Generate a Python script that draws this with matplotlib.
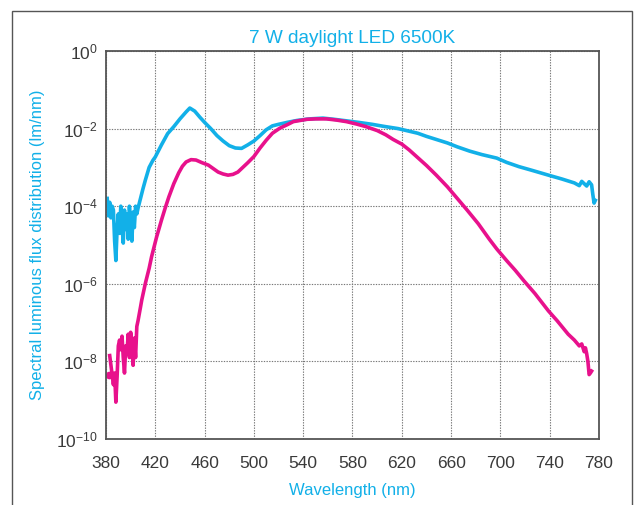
import numpy as np
import matplotlib
matplotlib.use("Agg")
import matplotlib.pyplot as plt
from matplotlib.patches import Rectangle
from matplotlib.ticker import FixedLocator, FuncFormatter

# ---- data (log10 of spectral luminous flux, lm/nm) ----
wl_cyan = [381, 382, 383, 384, 385, 386, 387, 388, 389, 390, 391, 392, 393, 394, 395,
           396, 397, 398, 399, 400, 401, 402, 403, 404, 405, 406, 408, 410, 412, 415,
           418, 420, 425, 430, 435, 440, 445, 448, 452, 456, 460, 465, 470, 475, 480,
           485, 490, 495, 500, 505, 510, 515, 520, 527, 535, 545, 556, 565, 575, 585,
           596, 605, 617, 625, 633, 640, 650, 657, 665, 675, 685, 697, 705, 715, 725,
           739, 750, 760, 764, 766, 768, 770, 772, 774, 775, 776, 777]
log_cyan = [-3.8, -4.25, -3.9, -4.3, -4.0, -4.1, -4.9, -5.4, -4.6, -4.2, -4.7, -4.0, -4.5, -4.95, -4.1,
            -4.6, -4.2, -4.85, -4.0, -4.45, -4.9, -4.15, -4.55, -4.0, -4.2, -4.05, -3.8, -3.55, -3.32, -3.0,
            -2.82, -2.73, -2.42, -2.13, -1.95, -1.75, -1.57, -1.47, -1.55, -1.7, -1.84, -2.0, -2.18, -2.32, -2.44,
            -2.5, -2.51, -2.42, -2.32, -2.18, -2.03, -1.93, -1.89, -1.84, -1.79, -1.75, -1.73, -1.76, -1.8, -1.84,
            -1.89, -1.94, -2.0, -2.06, -2.12, -2.2, -2.3, -2.37, -2.47, -2.58, -2.67, -2.76, -2.87, -2.98, -3.07,
            -3.2, -3.3, -3.4, -3.47, -3.36, -3.42, -3.48, -3.37, -3.45, -3.7, -3.92, -3.85]

wl_magenta = [383, 384, 386, 387, 388, 389, 390, 391, 392, 393, 394, 395, 396, 397, 398,
              399, 400, 401, 402, 403, 404, 405, 406, 408, 409, 412, 415, 417, 419, 421,
              425, 428, 431, 435, 439, 442, 445, 449, 453, 458, 463, 467, 471, 475, 479,
              483, 487, 491, 495, 500, 505, 510, 515, 521, 527, 532, 543, 550, 559, 567,
              575, 583, 591, 600, 607, 613, 620, 626, 633, 640, 648, 657, 665, 673, 682,
              691, 697, 705, 712, 719, 728, 739, 746, 755, 760, 764, 766, 768, 769, 770,
              771, 772, 773, 774]
log_magenta = [-7.85, -8.1, -8.6, -8.3, -9.05, -8.4, -7.6, -7.45, -7.7, -7.35, -7.9, -8.3, -7.6, -7.8, -7.3,
               -7.9, -7.25, -7.6, -8.1, -7.4, -7.9, -7.1, -6.95, -6.6, -6.42, -5.98, -5.6, -5.3, -5.05, -4.8,
               -4.36, -4.05, -3.76, -3.42, -3.14, -2.97, -2.86, -2.8, -2.81, -2.88, -2.94, -3.03, -3.12, -3.17, -3.2,
               -3.18, -3.12, -3.0, -2.88, -2.72, -2.5, -2.3, -2.12, -1.99, -1.9, -1.82, -1.76, -1.75, -1.75, -1.78,
               -1.82, -1.88, -1.95, -2.05, -2.16, -2.28, -2.4, -2.55, -2.75, -2.95, -3.2, -3.5, -3.8, -4.1, -4.45,
               -4.85, -5.1, -5.4, -5.65, -5.92, -6.25, -6.7, -6.95, -7.3, -7.45, -7.6, -7.55, -7.75, -7.65, -7.8,
               -8.0, -8.34, -8.3, -8.25]
wl_magenta_dot = [382.5]
log_magenta_dot = [-8.35]

x_ticks = [380, 420, 460, 500, 540, 580, 620, 660, 700, 740, 780]
y_exponents = [0, -2, -4, -6, -8, -10]

CYAN = "#12b0e8"
MAGENTA = "#e8118c"
TXT = "#3a3a3a"

plt.rcParams['font.family'] = ['Liberation Sans', 'DejaVu Sans']
plt.rcParams['mathtext.default'] = 'regular'

fig = plt.figure(figsize=(6.36, 5.05), dpi=100)
fig.patches.append(Rectangle((12 / 636, -0.05), (632 - 12) / 636, 1.05 - 11 / 505,
                             transform=fig.transFigure, fill=False,
                             edgecolor="#555555", linewidth=1.0))

ax = fig.add_axes([106 / 636, 1 - 439 / 505, (599 - 106) / 636, (439 - 51) / 505])

ax.plot(wl_cyan, 10.0 ** np.array(log_cyan), color=CYAN, lw=2.6, solid_joinstyle='round')
ax.plot(wl_magenta, 10.0 ** np.array(log_magenta), color=MAGENTA, lw=2.6, solid_joinstyle='round')
ax.plot(wl_magenta_dot, 10.0 ** np.array(log_magenta_dot), 'o', color=MAGENTA, ms=4.5)

ax.set_yscale('log')
ax.set_xlim(380, 780)
ax.set_ylim(1e-10, 1)
ax.xaxis.set_major_locator(FixedLocator(x_ticks))
ax.yaxis.set_major_locator(FixedLocator([10.0 ** e for e in y_exponents]))
ax.yaxis.set_minor_locator(FixedLocator([]))
ax.yaxis.set_major_formatter(FuncFormatter(lambda v, p: r"$10^{%d}$" % int(round(np.log10(v)))))
ax.tick_params(axis='both', length=0, labelsize=12.5, labelcolor=TXT)
ax.tick_params(axis='x', pad=12)
ax.tick_params(axis='y', pad=6)
ax.grid(True, which='major', color="#777777", linestyle=(0, (1.2, 1.2)), linewidth=0.8)

for s in ax.spines.values():
    s.set_color("#555555")
    s.set_linewidth(1.3)

ax.set_title("7 W daylight LED 6500K", color=CYAN, fontsize=13.7, pad=6)
ax.set_xlabel("Wavelength (nm)", color=CYAN, fontsize=12, labelpad=9)
ax.set_ylabel("Spectral luminous flux distribution (lm/nm)", color=CYAN, fontsize=12, labelpad=8)

fig.savefig("out.png", dpi=100)
